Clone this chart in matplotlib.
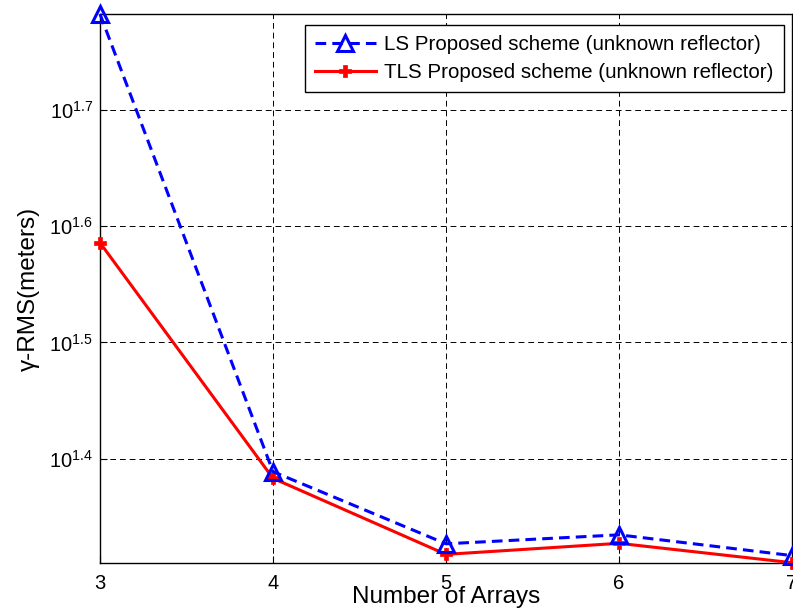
import math
import matplotlib
matplotlib.use("Agg")
import matplotlib.pyplot as plt
from matplotlib.ticker import FixedLocator, FuncFormatter, NullLocator

plt.rcParams['font.family'] = ['Liberation Sans', 'DejaVu Sans']

arrays = [3, 4, 5, 6, 7]
ls_rms = [60.62, 24.48, 21.22, 21.60, 20.73]
tls_rms = [38.53, 24.16, 20.78, 21.24, 20.44]
ytick_exps = [1.4, 1.5, 1.6, 1.7]
labels = ['LS Proposed scheme (unknown reflector)', 'TLS Proposed scheme (unknown reflector)']

fig = plt.figure(figsize=(7.93, 6.09), dpi=100)
ax = fig.add_axes([0.1261, 0.0755, 0.8726, 0.9015])

ax.plot(arrays, ls_rms, color='blue', linestyle='--', linewidth=2.2, marker='^',
        markersize=12, markerfacecolor='none', markeredgewidth=2.2, label=labels[0],
        clip_on=False, zorder=4, dashes=(3.5, 2))
ax.plot(arrays, tls_rms, color='red', linestyle='-', linewidth=2.2, marker='P',
        markersize=8, markeredgewidth=0.5, label=labels[1], clip_on=False, zorder=3)

ax.set_yscale('log')
ax.set_xlim(3, 7)
ax.set_ylim(10**1.3102, 10**1.7826)
ax.set_xticks(arrays)
ax.yaxis.set_major_locator(FixedLocator([10**e for e in ytick_exps]))
ax.yaxis.set_minor_locator(NullLocator())
ax.yaxis.set_major_formatter(FuncFormatter(
    lambda v, p: r'$\mathregular{10^{%.1f}}$' % math.log10(v)))

ax.tick_params(direction='in', length=5, labelsize=14.5, colors='black', pad=8)
ax.tick_params(axis='y', labelsize=14.5, pad=5)
ax.grid(True, which='major', color='black', linestyle=(0, (6, 4)), linewidth=0.7)
for s in ax.spines.values():
    s.set_linewidth(1.0)

ax.set_xlabel('Number of Arrays', fontsize=17.5, labelpad=-5)
ax.set_ylabel('γ-RMS(meters)', fontsize=17.5, labelpad=7)

leg = ax.legend(loc='upper right', bbox_to_anchor=(0.9884, 0.98), borderaxespad=0,
                fontsize=14.8, frameon=True, fancybox=False, edgecolor='black',
                framealpha=1, handlelength=3, handletextpad=0.4,
                borderpad=0.49, labelspacing=0.44)
leg.get_frame().set_linewidth(1.0)

fig.savefig('out.png', dpi=100)
